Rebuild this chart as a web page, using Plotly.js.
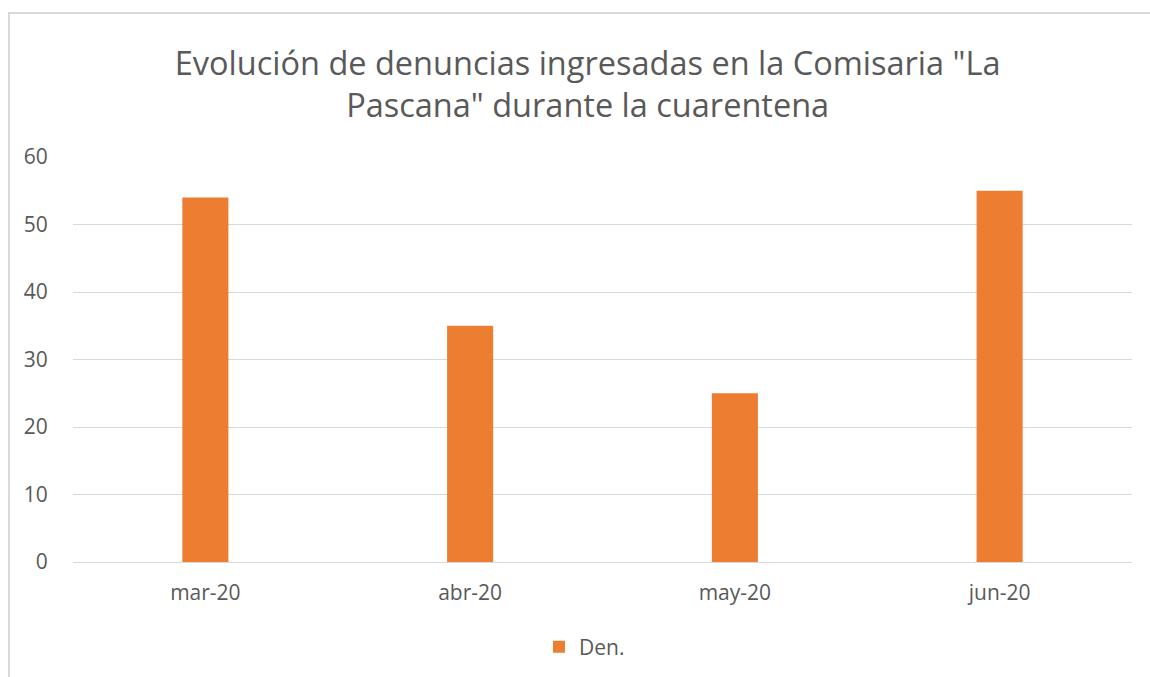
<!DOCTYPE html>
<html>
<head>
<meta charset="utf-8">
<script src="https://cdn.plot.ly/plotly-3.0.1.min.js"></script>
<style>
  html, body { margin: 0; padding: 0; background: #fff; }
  #chart { position: absolute; left: 0; top: 0; width: 1150px; height: 677px; }
  #frame { position: absolute; left: 8px; top: 12px; width: 1150px; height: 677px;
           border-left: 2px solid #d9d9d9; border-top: 2px solid #d9d9d9; pointer-events: none; box-sizing: border-box; }
</style>
</head>
<body>
<div id="chart"></div>
<div id="frame"></div>
<script>
const categories = ["mar-20", "abr-20", "may-20", "jun-20"];
const denValues = [54, 35, 25, 55];
const seriesName = "Den.";
const titleText = 'Evolución de denuncias ingresadas en la Comisaria "La<br>Pascana" durante la cuarentena';
const yTicks = [0, 10, 20, 30, 40, 50, 60];

const fontFamily = '"Open Sans", "Noto Sans", sans-serif';
const textColor = '#595959';

const data = [{
  type: 'bar',
  x: categories,
  y: denValues,
  name: seriesName,
  marker: { color: '#ED7D31' },
  width: 0.174,
  showlegend: true
}];

const layout = {
  width: 1150,
  height: 677,
  margin: { l: 73, r: 18, t: 157, b: 115, autoexpand: false },
  paper_bgcolor: '#ffffff',
  plot_bgcolor: '#ffffff',
  font: { family: fontFamily, color: textColor, size: 21 },
  title: {
    text: titleText,
    font: { family: fontFamily, size: 32.5, color: textColor },
    x: 0.511, xanchor: 'center',
    y: 1 - 75 / 677, yanchor: 'middle', yref: 'container'
  },
  xaxis: {
    type: 'category',
    showgrid: false,
    showline: false,
    zeroline: false,
    ticks: 'outside',
    ticklen: 12,
    tickcolor: 'rgba(0,0,0,0)',
    tickfont: { size: 21, color: textColor },
    fixedrange: true
  },
  yaxis: {
    range: [0, 60],
    tickvals: yTicks,
    showgrid: true,
    gridcolor: '#d9d9d9',
    gridwidth: 1,
    zeroline: true,
    zerolinecolor: '#d9d9d9',
    zerolinewidth: 1,
    showline: false,
    ticks: 'outside',
    ticklen: 20,
    tickcolor: 'rgba(0,0,0,0)',
    tickfont: { size: 21, color: textColor },
    fixedrange: true
  },
  showlegend: true,
  legend: {
    orientation: 'h',
    x: 0.483, xanchor: 'center',
    y: -0.21, yanchor: 'middle',
    font: { size: 21, color: textColor },
    itemwidth: 30,
    bgcolor: 'rgba(0,0,0,0)'
  },
  bargap: 0.826
};

Plotly.newPlot('chart', data, layout, { displayModeBar: false, staticPlot: true });
</script>
</body>
</html>
